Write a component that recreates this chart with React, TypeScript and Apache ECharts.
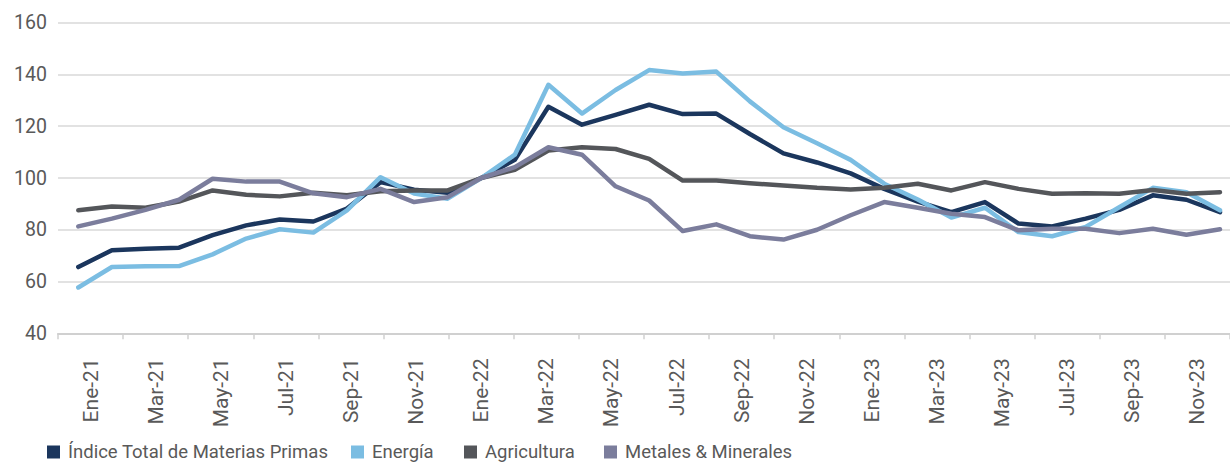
import React, { useEffect, useRef } from "react";
import * as echarts from "echarts";

const months = [
  "Ene-21", "Feb-21", "Mar-21", "Abr-21", "May-21", "Jun-21", "Jul-21", "Ago-21", "Sep-21", "Oct-21", "Nov-21", "Dic-21",
  "Ene-22", "Feb-22", "Mar-22", "Abr-22", "May-22", "Jun-22", "Jul-22", "Ago-22", "Sep-22", "Oct-22", "Nov-22", "Dic-22",
  "Ene-23", "Feb-23", "Mar-23", "Abr-23", "May-23", "Jun-23", "Jul-23", "Ago-23", "Sep-23", "Oct-23", "Nov-23",
];

const tickLabels = [
  "Ene-21", "Mar-21", "May-21", "Jul-21", "Sep-21", "Nov-21",
  "Ene-22", "Mar-22", "May-22", "Jul-22", "Sep-22", "Nov-22",
  "Ene-23", "Mar-23", "May-23", "Jul-23", "Sep-23", "Nov-23",
];

const indiceTotal = [
  65.6, 72.1, 72.7, 73.1, 77.9, 81.7, 84.0, 83.2, 88.2, 98.4, 95.5, 94.3,
  100, 107, 127.5, 120.6, 124.4, 128.3, 124.7, 124.9, 117, 109.5, 106, 101.8,
  95.8, 90.9, 86.8, 90.7, 82.4, 81.3, 84.3, 87.7, 93.3, 91.6, 86.8,
];

const energia = [
  57.7, 65.6, 65.9, 66, 70.5, 76.6, 80.2, 78.9, 87.5, 100.3, 94, 92,
  100, 109, 136, 124.9, 134, 141.7, 140.4, 141.1, 129.6, 119.6, 113.4, 107,
  97.8, 91.7, 84.7, 88.5, 79.1, 77.5, 81.1, 88.7, 96.2, 94.5, 87.5,
];

const agricultura = [
  87.5, 89, 88.5, 90.9, 95.2, 93.5, 92.9, 94.3, 93.3, 94.9, 95.2, 95.2,
  100, 103.2, 110.6, 111.9, 111.2, 107.4, 99, 99, 98, 97.1, 96.2, 95.6,
  96.2, 97.8, 95.2, 98.4, 95.8, 93.9, 94.1, 93.9, 95.4, 93.9, 94.5,
];

const metales = [
  81.3, 84.3, 87.7, 91.6, 99.7, 98.6, 98.6, 94.1, 92.6, 95.8, 90.7, 92.6,
  100, 104.2, 111.9, 109, 96.8, 91.3, 79.5, 82.1, 77.5, 76.2, 80, 85.6,
  90.7, 88.5, 86.2, 84.9, 79.8, 80.4, 80.4, 78.7, 80.4, 78.1, 80.2,
];

const seriesNames = ["Índice Total de Materias Primas", "Energía", "Agricultura", "Metales & Minerales"];
const seriesData = [indiceTotal, energia, agricultura, metales];
const colors = ["#1B365D", "#7BBDE2", "#54565A", "#7B7D9C"];
const legendLeft = [47, 351, 464, 604];

const FONT = "Roboto, 'Noto Sans', sans-serif";
const TEXT = "#595959";

export default function App() {
  const ref = useRef<HTMLDivElement>(null);
  useEffect(() => {
    if (!ref.current) return;
    const chart = echarts.init(ref.current, undefined, { renderer: "svg" });
    const top = 22.7;
    const height = 310.6;
    chart.setOption({
      animation: false,
      backgroundColor: "#ffffff",
      textStyle: { fontFamily: FONT },
      grid: [
        { left: 58, top, width: 1181, height },
        { left: 78.3, top, width: 1141.7, height },
      ],
      xAxis: [
        {
          gridIndex: 0,
          type: "category",
          data: tickLabels,
          boundaryGap: true,
          axisLine: { lineStyle: { color: "#D0D0D0", width: 2 } },
          axisTick: { show: true, length: 6, lineStyle: { color: "#D0D0D0", width: 1.5 } },
          axisLabel: { rotate: 90, margin: 25, fontSize: 21, color: TEXT, fontFamily: FONT },
          splitLine: { show: false },
        },
        {
          gridIndex: 1,
          type: "category",
          data: months,
          boundaryGap: false,
          show: false,
        },
      ],
      yAxis: [
        {
          gridIndex: 0,
          type: "value",
          min: 40,
          max: 160,
          interval: 20,
          axisLine: { show: false },
          axisTick: { show: false },
          axisLabel: { fontSize: 19.5, margin: 11, color: TEXT, fontFamily: FONT },
          splitLine: { lineStyle: { color: "#D9D9D9", width: 1.5 } },
        },
        {
          gridIndex: 1,
          type: "value",
          min: 40,
          max: 160,
          interval: 20,
          show: false,
          splitLine: { show: false },
        },
      ],
      legend: seriesNames.map((name, i) => ({
        data: [name],
        left: legendLeft[i],
        top: 442,
        icon: "rect",
        itemWidth: 13,
        itemHeight: 13,
        padding: 0,
        textStyle: { fontSize: 18.5, lineHeight: 20, color: TEXT, fontFamily: FONT, padding: [0, 0, 0, 3] },
      })),
      series: seriesNames.map((name, i) => ({
        name,
        type: "line",
        xAxisIndex: 1,
        yAxisIndex: 1,
        data: seriesData[i],
        symbol: "none",
        color: colors[i],
        lineStyle: { color: colors[i], width: 4.5, join: "round", cap: "round" },
      })),
    });
    return () => chart.dispose();
  }, []);
  return (
    <div
      ref={ref}
      style={{ position: "fixed", left: 0, top: 0, width: 1230, height: 463, overflow: "hidden" }}
    />
  );
}
